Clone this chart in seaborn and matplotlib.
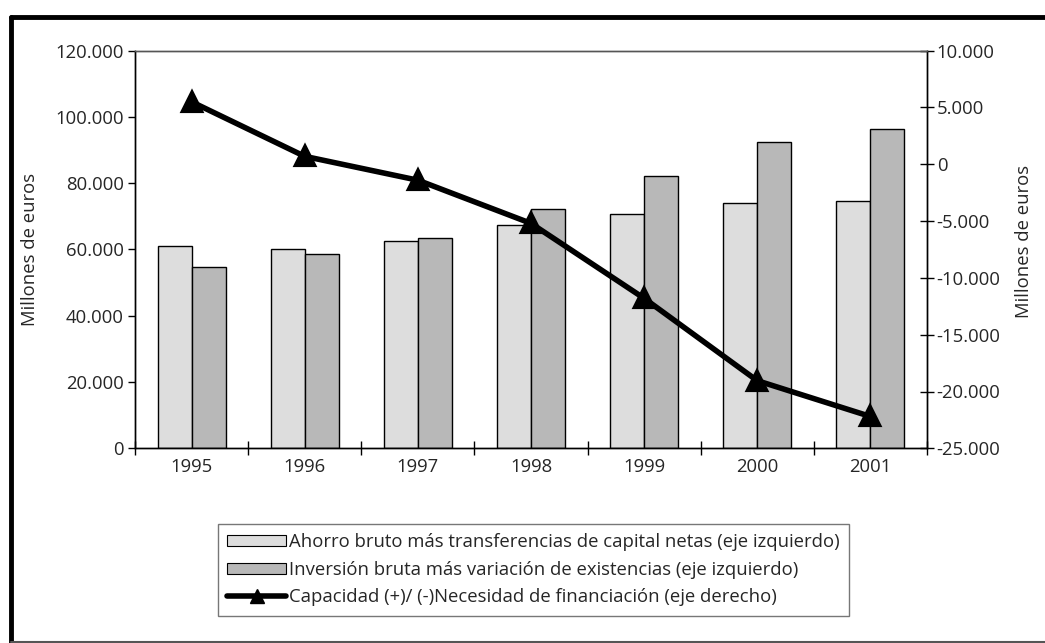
import matplotlib
matplotlib.use("Agg")
import matplotlib.pyplot as plt
import seaborn as sns
import pandas as pd
from matplotlib.patches import Patch
from matplotlib.lines import Line2D
from matplotlib.ticker import FuncFormatter

years = ["1995", "1996", "1997", "1998", "1999", "2000", "2001"]
ahorro = [61000, 60200, 62700, 67500, 70800, 74000, 74700]
inversion = [54700, 58700, 63600, 72300, 82100, 92400, 96500]
capacidad = [5500, 700, -1400, -5200, -11800, -19050, -22200]

lab_ahorro = "Ahorro bruto más transferencias de capital netas (eje izquierdo)"
lab_inv = "Inversión bruta más variación de existencias (eje izquierdo)"
lab_cap = "Capacidad (+)/ (-)Necesidad de financiación (eje derecho)"

sns.set_style("white")
plt.rcParams["font.family"] = ["Open Sans", "DejaVu Sans"]
FS = 13.3

df = pd.DataFrame({
    "year": years * 2,
    "value": ahorro + inversion,
    "serie": [lab_ahorro] * len(years) + [lab_inv] * len(years),
})
df_line = pd.DataFrame({"year": years, "value": capacidad})

W, H = 1045, 643
fig = plt.figure(figsize=(W / 100, H / 100), dpi=100)
ax = fig.add_axes([135 / W, 1 - 448.3 / H, (927 - 135) / W, (448.3 - 50.7) / H])

c_light = "#DDDDDD"
c_dark = "#B8B8B8"
sns.barplot(data=df, x="year", y="value", hue="serie", order=years,
            palette=[c_light, c_dark], width=0.6, edgecolor="black",
            linewidth=1.0, saturation=1, ax=ax, legend=False)
ax.set_xlim(-0.5, len(years) - 0.5)
ax.set_ylim(0, 120000)
ax.set_yticks(range(0, 120001, 20000))
fmt = FuncFormatter(lambda v, p: f"{int(v):,}".replace(",", "."))
ax.yaxis.set_major_formatter(fmt)
ax.set_xlabel("")
ax.set_ylabel("Millones de euros", fontsize=FS)
ax.yaxis.set_label_coords((39 - 135) / 792, 0.5)
ax.set_xticks(range(len(years)))
ax.set_xticklabels(years)
ax.set_xticks([i - 0.5 for i in range(len(years) + 1)], minor=True)
ax.tick_params(axis="x", which="major", length=0, labelsize=FS, pad=7)
ax.tick_params(axis="x", which="minor", length=10, direction="inout", width=1, color="black", bottom=True)
ax.tick_params(axis="y", which="major", length=5, direction="out", width=1, labelsize=FS, pad=3, left=True, color="black")
for s in ax.spines.values():
    s.set_color("black")
    s.set_linewidth(1)
ax.spines["top"].set_color("#555555")

ax2 = ax.twinx()
sns.pointplot(data=df_line, x="year", y="value", order=years, color="black",
              markers="^", linestyles="-", ax=ax2, markersize=13, linewidth=4)
ax2.set_xlim(-0.5, len(years) - 0.5)
ax2.set_ylim(-25000, 10000)
ax2.set_yticks(range(-25000, 10001, 5000))
ax2.yaxis.set_major_formatter(fmt)
ax2.set_ylabel("Millones de euros", fontsize=FS)
ax2.yaxis.set_label_coords((1015 - 135) / 792, 0.52)
ax2.tick_params(axis="y", which="major", length=10, direction="inout", width=1, labelsize=FS, pad=2, right=True, color="black")
ax2.set_xlabel("")
for s in ax2.spines.values():
    s.set_linewidth(1)
    s.set_color("black")
ax2.spines["top"].set_color("#555555")

handles = [
    Patch(facecolor=c_light, edgecolor="black", linewidth=0.8),
    Patch(facecolor=c_dark, edgecolor="black", linewidth=0.8),
    Line2D([], [], color="black", linewidth=4, marker="^", markersize=10),
]
leg = fig.legend(handles, [lab_ahorro, lab_inv, lab_cap], loc="upper left",
                 bbox_to_anchor=(218 / W, 1 - 524 / H), borderaxespad=0,
                 fontsize=FS, frameon=True, fancybox=False, shadow=False,
                 handlelength=3.2, handleheight=0.55, handletextpad=0.15,
                 labelspacing=0.52, borderpad=0.5)
fr = leg.get_frame()
fr.set_edgecolor("#777777")
fr.set_linewidth(1)
fr.set_alpha(1)

# outer frame
fig.add_artist(Line2D([11 / W, 11 / W], [1 - 17 / H, 0], transform=fig.transFigure, color="black", linewidth=3.5))
fig.add_artist(Line2D([11 / W, 1], [1 - 17 / H, 1 - 17 / H], transform=fig.transFigure, color="black", linewidth=3.5))
fig.add_artist(Line2D([11 / W, 1], [1 - 642 / H, 1 - 642 / H], transform=fig.transFigure, color="#555555", linewidth=1.5))

fig.savefig("out.png", dpi=100)
